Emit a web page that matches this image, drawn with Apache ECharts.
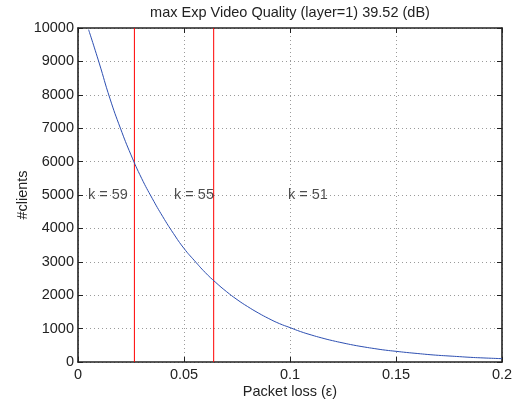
<!DOCTYPE html>
<html>
<head>
<meta charset="utf-8">
<style>
  html, body { margin: 0; padding: 0; background: #fff; }
  #chart { width: 519px; height: 402px; }
</style>
<script src="https://cdn.jsdelivr.net/npm/echarts@6/dist/echarts.min.js"></script>
</head>
<body>
<div id="chart"></div>
<script>
// Packet loss values (epsilon) and the number of clients at each
const lossValues = [0.005, 0.010, 0.015, 0.020, 0.025, 0.030, 0.035, 0.040, 0.045, 0.050,
  0.055, 0.060, 0.065, 0.070, 0.075, 0.080, 0.085, 0.090, 0.095, 0.100,
  0.105, 0.110, 0.115, 0.120, 0.125, 0.130, 0.135, 0.140, 0.145, 0.150,
  0.155, 0.160, 0.165, 0.170, 0.175, 0.180, 0.185, 0.190, 0.195, 0.200];
const clientCounts = [9950, 8950, 7900, 7000, 6200, 5500, 4900, 4350, 3850, 3400,
  3030, 2680, 2380, 2110, 1870, 1660, 1470, 1300, 1150, 1030,
  910, 810, 720, 640, 570, 505, 450, 400, 355, 320,
  285, 255, 225, 200, 180, 160, 140, 125, 112, 100];

// Loss thresholds where the code parameter k changes
const thresholds = [0.0266, 0.064];

// Region annotations
const regionLabels = ['k = 59', 'k = 55', 'k = 51'];
const regionLabelX = [0.0047, 0.0453, 0.099];
const regionLabelY = 5000;

const xTicks = { min: 0, max: 0.2, interval: 0.05 };
const yTicks = { min: 0, max: 10000, interval: 1000 };

const titleText = 'max Exp Video Quality (layer=1) 39.52 (dB)';
const fontFamily = '"Liberation Sans", Arial, Helvetica, sans-serif';
const ink = '#222';
const fontSize = 14.5;

const chart = echarts.init(document.getElementById('chart'), null, { renderer: 'canvas' });

const gridLine = { show: true, lineStyle: { color: '#9a9a9a', type: [1, 3], width: 1 } };
const axisLine = { show: true, onZero: false, lineStyle: { color: ink, width: 1.6 } };
const tickIn = { show: true, inside: true, length: 5, lineStyle: { color: ink } };
const labelFont = { color: ink, fontFamily: fontFamily, fontSize: fontSize };

const curveData = lossValues.map((x, i) => [x, clientCounts[i]]);

const series = [
  {
    type: 'line',
    name: 'clients',
    data: curveData,
    smooth: true,
    showSymbol: false,
    lineStyle: { color: '#2d4fb2', width: 1 },
    z: 3
  }
];

thresholds.forEach((t) => {
  series.push({
    type: 'line',
    data: [[t, yTicks.min], [t, yTicks.max]],
    showSymbol: false,
    lineStyle: { color: '#ff0000', width: 1 },
    z: 2
  });
});

series.push({
  type: 'scatter',
  data: regionLabels.map((s, i) => [regionLabelX[i], regionLabelY, s]),
  symbolSize: 0,
  label: {
    show: true,
    position: 'right',
    distance: 0,
    formatter: (p) => p.data[2],
    color: ink,
    fontFamily: fontFamily,
    fontSize: fontSize
  },
  z: 4
});

chart.setOption({
  animation: false,
  backgroundColor: '#fff',
  grid: { left: 78, right: 17, top: 28, bottom: 40, containLabel: false, outerBoundsMode: 'none' },
  xAxis: [
    {
      type: 'value', min: xTicks.min, max: xTicks.max, interval: xTicks.interval,
      position: 'bottom',
      axisLine: axisLine, axisTick: tickIn, splitLine: gridLine,
      axisLabel: Object.assign({ margin: 5, formatter: (v) => String(v) }, labelFont),
      name: 'Packet loss (\u03b5)', nameLocation: 'middle', nameGap: 22,
      nameMoveOverlap: false,
      nameTextStyle: labelFont
    },
    {
      type: 'value', min: xTicks.min, max: xTicks.max, interval: xTicks.interval,
      position: 'top',
      axisLine: axisLine, axisTick: tickIn, splitLine: { show: false },
      axisLabel: { show: false }
    }
  ],
  yAxis: [
    {
      type: 'value', min: yTicks.min, max: yTicks.max, interval: yTicks.interval,
      position: 'left',
      axisLine: axisLine, axisTick: tickIn, splitLine: gridLine,
      axisLabel: Object.assign({ margin: 4, formatter: (v) => String(v) }, labelFont),
      name: '#clients', nameLocation: 'middle', nameGap: 48, nameRotate: 90,
      nameMoveOverlap: false,
      nameTextStyle: labelFont
    },
    {
      type: 'value', min: yTicks.min, max: yTicks.max, interval: yTicks.interval,
      position: 'right',
      axisLine: axisLine, axisTick: tickIn, splitLine: { show: false },
      axisLabel: { show: false }
    }
  ],
  graphic: [
    {
      type: 'text',
      x: 290, y: 13,
      style: {
        text: titleText,
        fill: ink,
        font: fontSize + 'px ' + fontFamily,
        textAlign: 'center',
        textVerticalAlign: 'middle'
      }
    }
  ],
  series: series
});
</script>
</body>
</html>
